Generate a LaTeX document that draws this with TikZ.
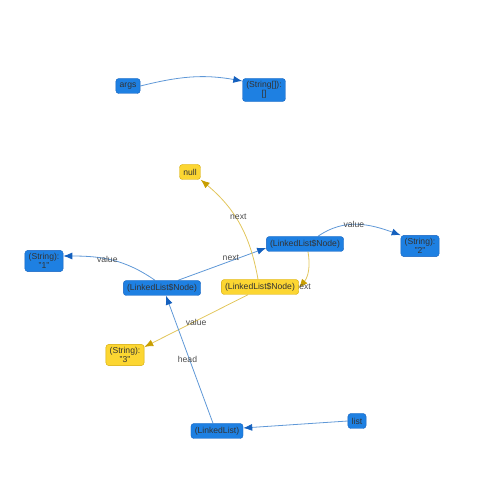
\documentclass[tikz,border=0pt]{standalone}
\usepackage{fontspec}
\setmainfont{Liberation Sans}
\usetikzlibrary{arrows.meta,backgrounds}
\definecolor{objfill}{RGB}{30,128,226}
\definecolor{objline}{RGB}{22,98,190}
\definecolor{newfill}{RGB}{252,214,50}
\definecolor{newline}{RGB}{212,168,0}
\definecolor{refblue}{RGB}{95,152,215}
\definecolor{tipblue}{RGB}{20,96,190}
\definecolor{refyellow}{RGB}{226,198,92}
\definecolor{tipyellow}{RGB}{200,158,0}

\begin{document}
\begin{tikzpicture}[x=1pt,y=1pt,
    obj/.style={draw=objline, fill=objfill, rounded corners=3pt, text=black!80,
      font=\fontsize{8.6}{9}\selectfont, align=center,
      inner xsep=3.8pt, inner ysep=3pt, minimum height=15pt},
    newobj/.style={obj, draw=newline, fill=newfill},
    ref/.style={draw=refblue, line width=0.8pt, -{Latex[length=9pt,width=7pt,color=tipblue]}},
    newref/.style={draw=refyellow, line width=0.8pt, -{Latex[length=9pt,width=7pt,color=tipyellow]}},
    lbl/.style={text=black!70, font=\fontsize{8.6}{9}\selectfont, inner sep=0pt}]
    \useasboundingbox (0,0) rectangle (484,498);

    % Variables and objects
    \node[obj] (args) at (128,412) {args};
    \node[obj] (strArr) at (264,408) {(String[]):\\{}[]};
    \node[newobj] (null) at (190,326) {null};
    \node[obj] (str1) at (44,237) {(String):\\"1"};
    \node[obj] (node1) at (162,210) {(LinkedList\$Node)};
    \node[obj] (node2) at (305,254) {(LinkedList\$Node)};
    \node[newobj] (ynode) at (260,211) {(LinkedList\$Node)};
    \node[obj] (str2) at (420,252) {(String):\\"2"};
    \node[newobj] (str3) at (125,143) {(String):\\"3"};
    \node[obj] (llist) at (217,67) {(LinkedList)};
    \node[obj] (list) at (357,77) {list};

    % References (behind the boxes)
    \begin{scope}[on background layer]
    \draw[ref] (args.east) to[out=14,in=170] ([yshift=9pt]strArr.west);
    \draw[ref] ([xshift=13pt]node2.north) to[out=35,in=160]
      node[lbl, pos=0.45] {value} (str2.north west);
    \draw[ref] ([xshift=-7pt]node1.north) to[out=145,in=0]
      node[lbl, pos=0.55] {value} ([yshift=5pt]str1.east);
    \draw[ref] ([xshift=16pt]node1.north) --
      node[lbl, pos=0.6, yshift=3pt] {next} ([yshift=-4pt]node2.west);
    \draw[newref] ([xshift=-2pt]ynode.north) to[out=100,in=-40]
      node[lbl, pos=0.57, xshift=3pt] {next} (null.south east);
    \draw[newref] ([xshift=3pt]node2.south) to[out=-80,in=50]
      node[lbl, pos=0.97, xshift=3pt] {next} ([yshift=-1pt]ynode.east);
    \draw[newref] ([xshift=-12pt]ynode.south) --
      node[lbl, pos=0.5, yshift=-2pt] {value} ([yshift=8pt]str3.east);
    \draw[ref] ([xshift=-4pt]llist.north) --
      node[lbl, pos=0.5, xshift=-2pt] {head} ([xshift=4pt]node1.south);
    \draw[ref] (list.west) -- ([yshift=3pt]llist.east);
    \end{scope}
\end{tikzpicture}
\end{document}
